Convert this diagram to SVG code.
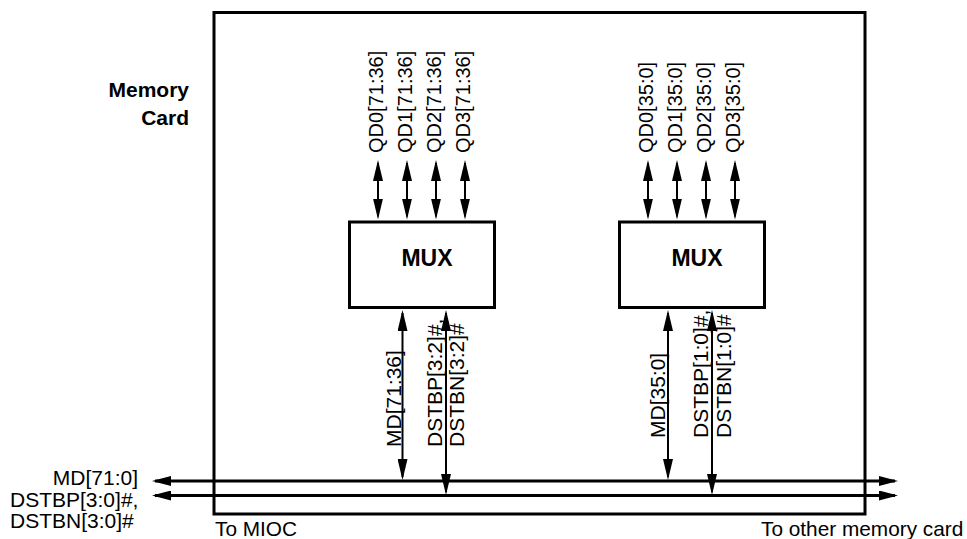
<svg xmlns="http://www.w3.org/2000/svg" width="967" height="539" viewBox="0 0 967 539">
  <style>
    text { font-family: "Liberation Sans", Arial, sans-serif; fill: #000; }
    .lbl { font-size: 20px; }
    .lbl2 { font-size: 21px; }
    .bot { font-size: 20.8px; }
    .bold { font-size: 21px; font-weight: bold; }
    .mux { font-size: 23px; font-weight: bold; text-anchor: middle; }
    .box { fill: #fff; stroke: #000; stroke-width: 3; }
    .frame { fill: none; stroke: #000; stroke-width: 3; }
    .sig { stroke: #000; stroke-width: 2; fill: none; marker-start: url(#ah); marker-end: url(#ah); }
    .bus { stroke: #000; stroke-width: 3; fill: none; marker-start: url(#bh); marker-end: url(#bh); }
  </style>
  <defs>
    <marker id="ah" markerUnits="userSpaceOnUse" markerWidth="21" markerHeight="10" refX="18" refY="5" orient="auto-start-reverse">
      <path d="M0,0 L21,5 L0,10 z" fill="#000"/>
    </marker>
    <marker id="bh" markerUnits="userSpaceOnUse" markerWidth="19" markerHeight="10" refX="16" refY="5" orient="auto-start-reverse">
      <path d="M0,0 L19,5 L0,10 z" fill="#000"/>
    </marker>
  </defs>

  <g id="memory-card">
    <rect class="frame" x="214" y="12.5" width="651" height="501.5"/>
    <text class="bold" x="189" y="97" text-anchor="end">Memory</text>
    <text class="bold" x="189" y="125" text-anchor="end">Card</text>
  </g>

  <g id="mux-high">
    <rect class="box" x="349.5" y="222" width="145" height="85.5"/>
    <text class="mux" x="427" y="266">MUX</text>
  </g>

  <g id="mux-low">
    <rect class="box" x="619.5" y="222" width="145" height="85.5"/>
    <text class="mux" x="697" y="266">MUX</text>
  </g>

  <g id="connectors">
    <!-- QD arrows, high half -->
    <line class="sig" x1="378" y1="163" x2="378" y2="216.5"/>
    <line class="sig" x1="407" y1="163" x2="407" y2="216.5"/>
    <line class="sig" x1="436" y1="163" x2="436" y2="216.5"/>
    <line class="sig" x1="465" y1="163" x2="465" y2="216.5"/>
    <!-- QD arrows, low half -->
    <line class="sig" x1="648" y1="163" x2="648" y2="216.5"/>
    <line class="sig" x1="677" y1="163" x2="677" y2="216.5"/>
    <line class="sig" x1="706" y1="163" x2="706" y2="216.5"/>
    <line class="sig" x1="735" y1="163" x2="735" y2="216.5"/>
    <!-- MD / DSTB arrows -->
    <line class="sig" x1="402.5" y1="313" x2="402.5" y2="477"/>
    <line class="sig" x1="446" y1="313" x2="446" y2="492"/>
    <line class="sig" x1="668" y1="313" x2="668" y2="477"/>
    <line class="sig" x1="712" y1="313" x2="712" y2="492"/>
    <!-- buses -->
    <line class="bus" x1="155" y1="481" x2="895" y2="481"/>
    <line class="bus" x1="155" y1="495.5" x2="895" y2="495.5"/>
  </g>

  <g id="labels">
    <text class="lbl" transform="translate(383,153) rotate(-90)">QD0[71:36]</text>
    <text class="lbl" transform="translate(412,153) rotate(-90)">QD1[71:36]</text>
    <text class="lbl" transform="translate(441,153) rotate(-90)">QD2[71:36]</text>
    <text class="lbl" transform="translate(470,153) rotate(-90)">QD3[71:36]</text>
    <text class="lbl" transform="translate(653,153) rotate(-90)">QD0[35:0]</text>
    <text class="lbl" transform="translate(682,153) rotate(-90)">QD1[35:0]</text>
    <text class="lbl" transform="translate(711,153) rotate(-90)">QD2[35:0]</text>
    <text class="lbl" transform="translate(740,153) rotate(-90)">QD3[35:0]</text>

    <text class="lbl2" transform="translate(400.5,447) rotate(-90)">MD[71:36]</text>
    <text class="lbl2" transform="translate(442,447) rotate(-90)">DSTBP[3:2]#,</text>
    <text class="lbl2" transform="translate(463.5,447) rotate(-90)">DSTBN[3:2]#</text>
    <text class="lbl2" transform="translate(665,438) rotate(-90)">MD[35:0]</text>
    <text class="lbl2" transform="translate(708,438) rotate(-90)">DSTBP[1:0]#,</text>
    <text class="lbl2" transform="translate(730.5,438) rotate(-90)">DSTBN[1:0]#</text>

    <text class="lbl2" x="138" y="485" text-anchor="end">MD[71:0]</text>
    <text class="lbl2" x="10" y="506.5">DSTBP[3:0]#,</text>
    <text class="lbl2" x="10" y="528">DSTBN[3:0]#</text>
    <text class="bot" x="215" y="535.5">To MIOC</text>
    <text class="bot" x="761" y="535.5">To other memory card</text>
  </g>
</svg>
